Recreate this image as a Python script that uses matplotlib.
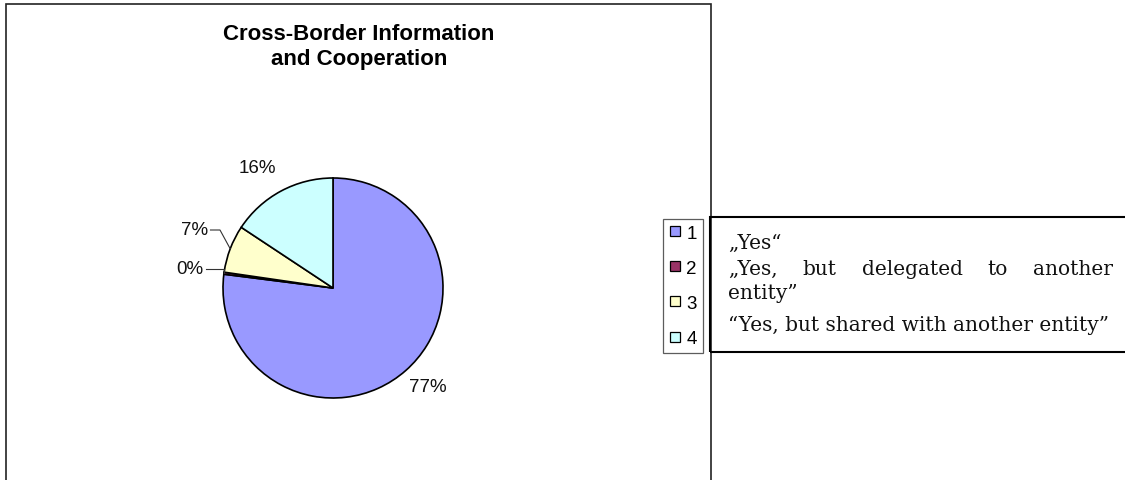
import matplotlib
matplotlib.use("Agg")
import matplotlib.pyplot as plt
from matplotlib.patches import Rectangle
from matplotlib.lines import Line2D
import numpy as np

# ===== data =====
categories = ["1", "2", "3", "4"]
shares = [77.0, 0.3, 7.0, 15.7]
pct_labels = ["77%", "0%", "7%", "16%"]
colors = ["#9999FF", "#993366", "#FFFFCC", "#CCFFFF"]
title = "Cross-Border Information\nand Cooperation"
legend_notes = [
    "\u201eYes\u201c",
    "\u201eYes, but delegated to another",
    "entity\u201d",
    "\u201cYes, but shared with another entity\u201d",
]

W, H = 1125, 481
fig = plt.figure(figsize=(W / 100, H / 100), dpi=100)
fig.patch.set_facecolor("white")

def fx(px):
    return px / W

def fy(py):
    return 1 - py / H

# chart area frame (runs off the bottom of the image)
fig.add_artist(Rectangle((fx(6), -0.1), fx(711) - fx(6), fy(4.5) + 0.1,
                         transform=fig.transFigure, fill=False,
                         edgecolor="#222222", linewidth=1.2))

fig.text(fx(359), fy(47), title, ha="center", va="center",
         family="Liberation Sans", weight="bold", fontsize=16, linespacing=1.3)

# ===== pie =====
ax = fig.add_axes([fx(333 - 150), fy(289 + 150), 300 / W, 300 / H])
wedges, _ = ax.pie(shares, colors=colors, startangle=90, counterclock=False,
                   radius=1.1,
                   wedgeprops=dict(edgecolor="black", linewidth=1.2))
ax.set_xlim(-1.5, 1.5)
ax.set_ylim(-1.5, 1.5)
ax.set_aspect("equal")
ax.axis("off")

label_xy = [(0.95, -0.99), (-1.43, 0.19), (-1.38, 0.58), (-0.76, 1.20)]
for (x, y), s in zip(label_xy, pct_labels):
    ax.text(x, y, s, ha="center", va="center", family="Liberation Sans",
            fontsize=13.5, color="#111111")

# leader lines for the two small slices
for i, x_start in ((1, -1.275), (2, -1.225)):
    w = wedges[i]
    mid = np.deg2rad((w.theta1 + w.theta2) / 2)
    ex, ey = 1.1 * np.cos(mid), 1.1 * np.sin(mid)
    y0 = label_xy[i][1]
    elbow = -1.13 if i == 2 else ex
    ax.plot([x_start, elbow, ex], [y0, y0, ey], color="#333333", lw=0.8,
            clip_on=False)

# ===== legend =====
handles = [Line2D([], [], marker="s", linestyle="none", markersize=7,
                  markerfacecolor=c, markeredgecolor="black",
                  markeredgewidth=0.9) for c in colors]
leg = fig.legend(handles, categories, loc="upper left",
                 bbox_to_anchor=(fx(663), fy(220)), borderaxespad=0,
                 frameon=True, fancybox=False, edgecolor="#333333",
                 prop=dict(family="Liberation Sans", size=13.5),
                 handlelength=0.7, handletextpad=0.25, labelspacing=0.96,
                 borderpad=0.3)
leg.get_frame().set_linewidth(0.9)

# ===== description box =====
fig.add_artist(Rectangle((fx(710), fy(353)), fx(1140) - fx(710), fy(218) - fy(353),
                         transform=fig.transFigure, fill=False,
                         edgecolor="black", linewidth=1.5))

serif = dict(family="DejaVu Serif", fontsize=14.5, color="#111111")
baselines = [249, 275, 299, 331]
x_left, x_right = 728, 1113
renderer = fig.canvas.get_renderer()
for b, line in zip(baselines, legend_notes):
    if line.startswith("\u201eYes, but"):
        words = line.split()
        txts = [fig.text(0, fy(b), wd, ha="left", va="baseline", **serif)
                for wd in words]
        widths = [t.get_window_extent(renderer).width for t in txts]
        gap = (x_right - x_left - sum(widths)) / (len(words) - 1)
        x = x_left
        for t, wdt in zip(txts, widths):
            t.set_x(fx(x))
            x += wdt + gap
    else:
        fig.text(fx(x_left), fy(b), line, ha="left", va="baseline", **serif)

fig.savefig("out.png", dpi=100)
